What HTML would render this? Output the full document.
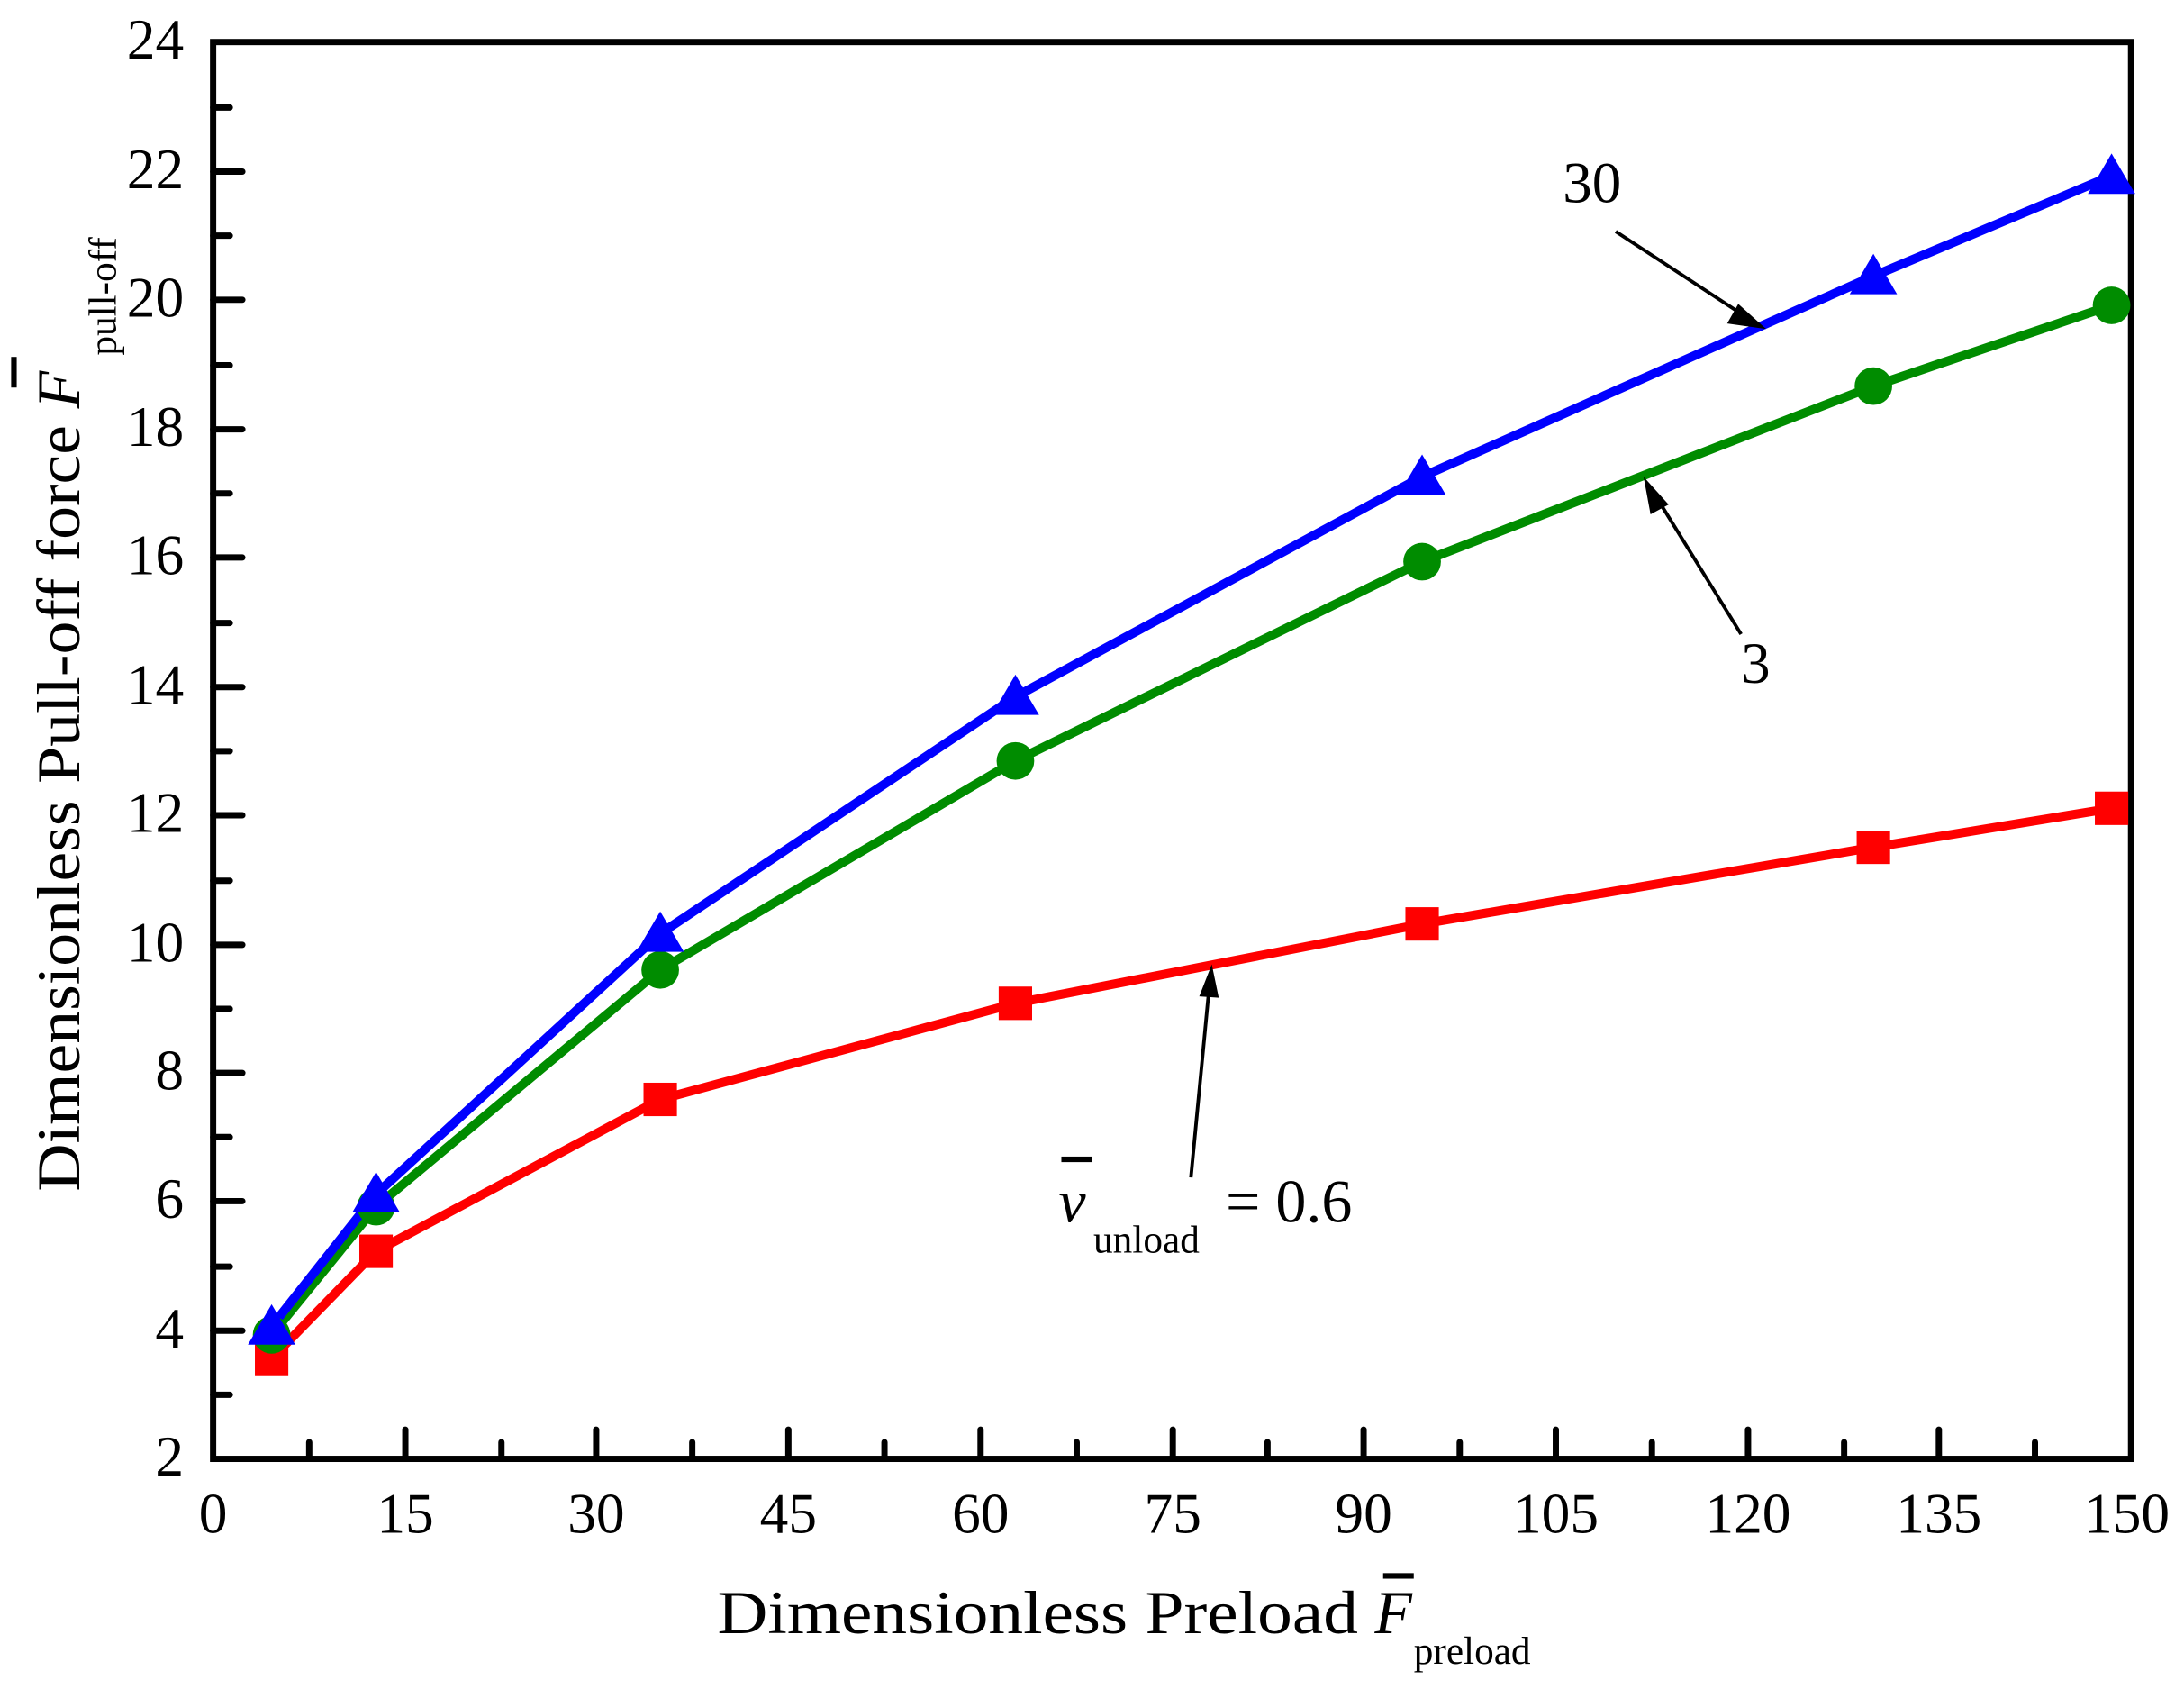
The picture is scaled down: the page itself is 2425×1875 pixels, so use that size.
<!DOCTYPE html>
<html><head><meta charset="utf-8"><style>html,body{margin:0;padding:0;background:#fff}svg{display:block}</style></head>
<body>
<svg width="2425" height="1875" viewBox="0 0 1568 1212" xmlns="http://www.w3.org/2000/svg" font-family="'Liberation Serif', serif">
<rect width="1568" height="1212" fill="#fff"/>
<g stroke="#000" stroke-width="4.5" fill="none" stroke-linecap="round">
<rect x="153" y="30" width="1377" height="1017"/>
<path d="M291,1047v-21M428,1047v-21M566,1047v-21M704,1047v-21M842,1047v-21M979,1047v-21M1117,1047v-21M1255,1047v-21M1392,1047v-21
M222,1047v-12M360,1047v-12M497,1047v-12M635,1047v-12M773,1047v-12M910,1047v-12M1048,1047v-12M1186,1047v-12M1324,1047v-12M1461,1047v-12"/>
<path d="M153,955h21M153,862h21M153,770h21M153,678h21M153,585h21M153,493h21M153,400h21M153,308h21M153,215h21M153,123h21
M153,1001h12M153,909h12M153,816h12M153,724h12M153,632h12M153,539h12M153,447h12M153,354h12M153,262h12M153,169h12M153,77h12"/>
</g>
<g font-size="41" text-anchor="end">
<text x="132" y="1059">2</text><text x="132" y="967">4</text><text x="132" y="874">6</text><text x="132" y="782">8</text>
<text x="132" y="690">10</text><text x="132" y="597">12</text><text x="132" y="505">14</text><text x="132" y="412">16</text>
<text x="132" y="320">18</text><text x="132" y="227">20</text><text x="132" y="135">22</text><text x="132" y="42">24</text>
</g>
<g font-size="41" text-anchor="middle">
<text x="153" y="1100">0</text><text x="291" y="1100">15</text><text x="428" y="1100">30</text><text x="566" y="1100">45</text>
<text x="704" y="1100">60</text><text x="842" y="1100">75</text><text x="979" y="1100">90</text><text x="1117" y="1100">105</text>
<text x="1255" y="1100">120</text><text x="1392" y="1100">135</text><text x="1527" y="1100">150</text>
</g>
<text x="515" y="1172" font-size="44" textLength="460" lengthAdjust="spacingAndGlyphs">Dimensionless Preload</text>
<text x="987" y="1172" font-size="44" font-style="italic">F</text>
<rect x="993" y="1129" width="22" height="4" fill="#000"/>
<text x="1015" y="1194" font-size="28">preload</text>
<g transform="translate(57,855) rotate(-90)">
<text x="0" y="0" font-size="44" textLength="550" lengthAdjust="spacingAndGlyphs">Dimensionless Pull-off force</text>
<text x="562" y="0" font-size="44" font-style="italic">F</text>
<rect x="577" y="-49" width="22" height="4" fill="#000"/>
<text x="600" y="26" font-size="28">pull-off</text>
</g>
<g fill="none" stroke-width="6.5" stroke-linejoin="round" stroke-linecap="round">
<polyline stroke="#ff0000" points="195,975 270,898 474,789 729,720 1021,663 1345,608 1516,580"/>
<polyline stroke="#008c00" points="195,958 270,866 474,696 729,546 1021,403 1345,277 1516,219"/>
<polyline stroke="#0000ff" points="195,952 270,857 474,670 729,500 1021,342 1345,198 1516,126"/>
</g>
<g fill="#ff0000">
<rect x="183" y="963" width="24" height="24"/><rect x="258" y="886" width="24" height="24"/><rect x="462" y="777" width="24" height="24"/>
<rect x="717" y="708" width="24" height="24"/><rect x="1009" y="651" width="24" height="24"/><rect x="1333" y="596" width="24" height="24"/><rect x="1504" y="568" width="24" height="24"/>
</g>
<g fill="#008c00">
<circle cx="195" cy="958" r="13.5"/><circle cx="270" cy="866" r="13.5"/><circle cx="474" cy="696" r="13.5"/><circle cx="729" cy="546" r="13.5"/>
<circle cx="1021" cy="403" r="13.5"/><circle cx="1345" cy="277" r="13.5"/><circle cx="1516" cy="219" r="13.5"/>
</g>
<g fill="#0000ff">
<path d="M195,936l17,29h-34z"/><path d="M270,841l17,29h-34z"/><path d="M474,654l17,29h-34z"/><path d="M729,484l17,29h-34z"/>
<path d="M1021,326l17,29h-34z"/><path d="M1345,182l17,29h-34z"/><path d="M1516,110l17,29h-34z"/>
</g>
<g stroke="#000" stroke-width="2.5">
<line x1="1160" y1="166" x2="1250" y2="225"/>
<line x1="1250" y1="455" x2="1190" y2="358"/>
<line x1="855" y1="845" x2="868" y2="710"/>
</g>
<g fill="#000">
<path d="M1268,236l-28,-4l8,-14z"/>
<path d="M1180,342l18,20l-13,7z"/>
<path d="M870,692l5,24l-14,-1z"/>
</g>
<text x="1122" y="145" font-size="42">30</text>
<text x="1250" y="490" font-size="42">3</text>
<text x="760" y="877" font-size="44" font-style="italic">v</text>
<rect x="762" y="830" width="22" height="4" fill="#000"/>
<text x="785" y="899" font-size="28">unload</text>
<text x="880" y="877" font-size="44">= 0.6</text>
</svg>
</body></html>
